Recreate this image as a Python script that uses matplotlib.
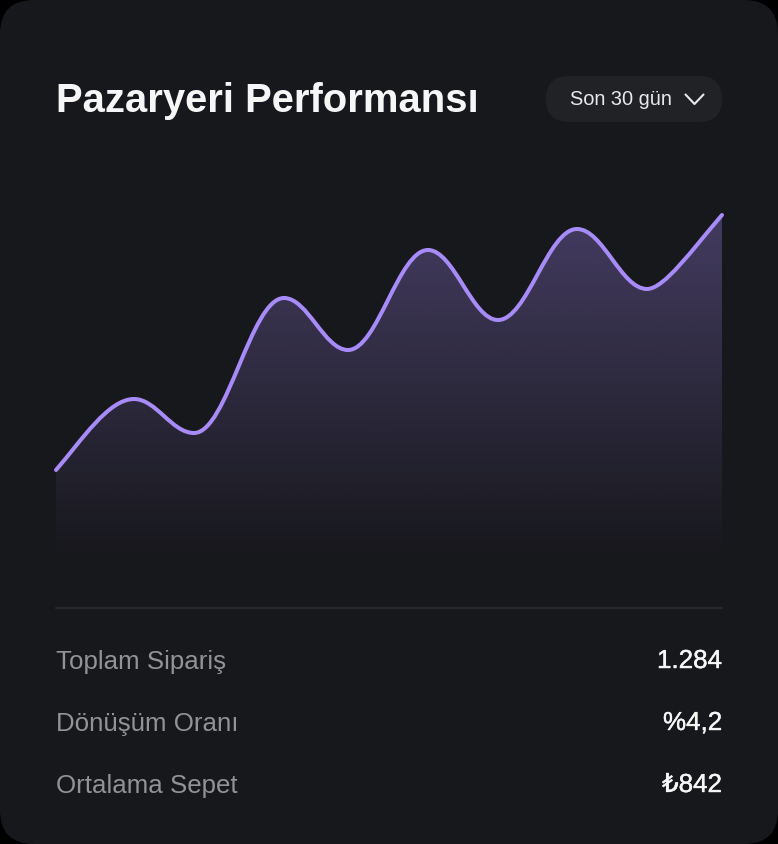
import numpy as np
import matplotlib
matplotlib.use("Agg")
import matplotlib.pyplot as plt
from matplotlib.patches import FancyBboxPatch, PathPatch
from matplotlib.path import Path
from matplotlib.lines import Line2D
import matplotlib.patheffects as pe

title = "Pazaryeri Performansı"
dropdown = "Son 30 gün"
stat_labels = ["Toplam Sipariş", "Dönüşüm Oranı", "Ortalama Sepet"]
stat_values = ["1.284", "%4,2", "₺842"]
# position along the period and metric height at the start, each turning point, and the end
x_vals = [0, 78, 138, 228, 292, 372, 442, 521, 591, 666]
y_vals = [90, 161, 127, 262, 210, 310, 240, 331, 271, 345]

BG = "#000000"; CARD = "#17181c"; PILL = "#212226"; RULE = "#2e2f33"
LINE = "#a78bfa"
FONT = ["Liberation Sans", "DejaVu Sans"]

fig = plt.figure(figsize=(7.78, 8.44), dpi=100, facecolor=BG)
bg = fig.add_axes([0, 0, 1, 1]); bg.set_xlim(0, 778); bg.set_ylim(844, 0); bg.axis("off")
bg.add_patch(FancyBboxPatch((0, 0), 778, 844, boxstyle="round,pad=0,rounding_size=34",
                            fc=CARD, ec="none"))
bg.add_patch(FancyBboxPatch((546, 76), 176, 46, boxstyle="round,pad=0,rounding_size=23",
                            fc=PILL, ec="none"))
bg.text(56.5, 100.5, title, color="#f6f6f7", fontsize=28.8, fontweight="bold", family=FONT, va="center", ha="left")
bg.text(570, 99.5, dropdown, color="#e9e9eb", fontsize=14.4, family=FONT, va="center", ha="left")
bg.add_line(Line2D([685.5, 694.5, 703.5], [94.5, 104, 94.5], color="#e9e9eb", lw=1.5,
                   solid_capstyle="round", solid_joinstyle="round"))
bg.add_line(Line2D([56, 722], [607.5, 607.5], color=RULE, lw=1.1))
for ypos, lab, val in zip([661.5, 723.5, 785.5], stat_labels, stat_values):
    bg.text(56, ypos, lab, color="#929397", fontsize=18.6, family=FONT, va="center", ha="left")
    t = bg.text(722, ypos - 0.5, val, color="#f6f6f7", fontsize=18.7, family=FONT, va="center", ha="right")
    t.set_path_effects([pe.withStroke(linewidth=0.3, foreground="#f6f6f7")])

ax = fig.add_axes([56 / 778, 1 - 560 / 844, 666 / 778, 400 / 844])
ax.set_xlim(0, 666); ax.set_ylim(0, 400); ax.axis("off"); ax.patch.set_alpha(0)

verts = [(x_vals[0], y_vals[0])]; codes = [Path.MOVETO]
n = len(x_vals)
for i in range(n - 1):
    x0, x1, y0, y1 = x_vals[i], x_vals[i + 1], y_vals[i], y_vals[i + 1]
    dx = x1 - x0
    if i == 0:
        c1 = (x0 + 0.33 * dx, y0 + 0.38 * (y1 - y0) * 1.1)
        c2 = (x1 - 0.33 * dx, y1)
    elif i == n - 2:
        c1 = (x0 + 0.23 * dx, y0)
        c2 = (x1 - 0.40 * dx, y1 - 0.47 * (y1 - y0))
    else:
        c1 = (x0 + 0.37 * dx, y0)
        c2 = (x1 - 0.37 * dx, y1)
    verts += [c1, c2, (x1, y1)]
    codes += [Path.CURVE4] * 3
line_path = Path(verts, codes)
area_path = Path(verts + [(x_vals[-1], 0), (x_vals[0], 0), (x_vals[0], y_vals[0])],
                 codes + [Path.LINETO, Path.LINETO, Path.CLOSEPOLY])

rgba = np.zeros((256, 1, 4))
rgba[..., :3] = matplotlib.colors.to_rgb(LINE)
rgba[:, 0, 3] = np.linspace(0.0, 0.31, 256)
im = ax.imshow(rgba, extent=(0, 666, 0, 345), origin="lower", aspect="auto", zorder=1)
im.set_clip_path(PathPatch(area_path, transform=ax.transData))
ax.set_xlim(0, 666); ax.set_ylim(0, 400)
ax.add_patch(PathPatch(line_path, fc="none", ec=LINE, lw=2.9, capstyle="round",
                       joinstyle="round", zorder=2, clip_on=False))
fig.savefig("out.png", dpi=100, facecolor=BG)
